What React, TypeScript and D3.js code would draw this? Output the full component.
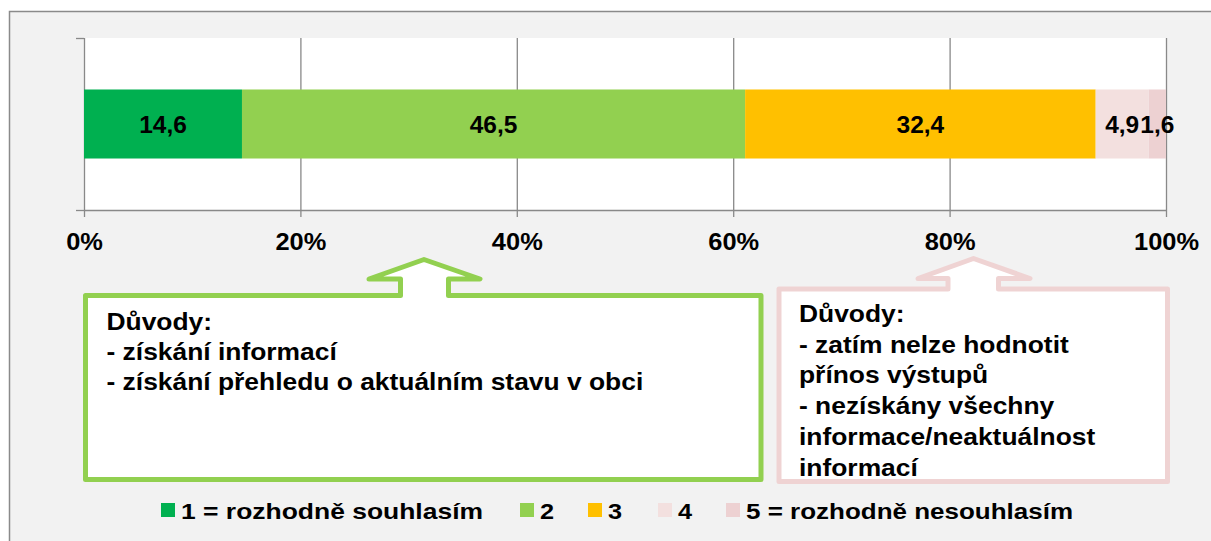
import React from "react";
import * as d3 from "d3";

const categories = ["1 = rozhodně souhlasím", "2", "3", "4", "5 = rozhodně nesouhlasím"];
const values = [14.6, 46.5, 32.4, 4.9, 1.6];
const valueLabels = ["14,6", "46,5", "32,4", "4,9", "1,6"];
const colors = ["#00b050", "#92d050", "#ffc000", "#f3e0df", "#edd1d2"];
const tickValues = [0, 20, 40, 60, 80, 100];
const tickLabels = ["0%", "20%", "40%", "60%", "80%", "100%"];
const greenLines = ["Důvody:", "- získání informací", "- získání přehledu o aktuálním stavu v obci"];
const pinkLines = [
  "Důvody:",
  "- zatím nelze hodnotit",
  "přínos výstupů",
  "- nezískány všechny",
  "informace/neaktuálnost",
  "informací",
];

const FONT = "'Liberation Sans', Arial, Helvetica, sans-serif";

function SText({ x, y, sx = 1, anchor = "start", size = 24, children, len }: any) {
  return (
    <text
      transform={`translate(${x},${y}) scale(${sx},1)`}
      textAnchor={anchor}
      fontFamily={FONT}
      fontWeight="bold"
      fontSize={size}
      fill="#000"
      textLength={len}
      lengthAdjust={len ? "spacingAndGlyphs" : undefined}
    >
      {children}
    </text>
  );
}

function calloutPath(x0: number, x1: number, yTop: number, yBot: number, sL: number, sR: number, headL: number, headR: number, apexX: number, headY: number, apexY: number) {
  const p = d3.path();
  p.moveTo(x0, yTop);
  p.lineTo(sL, yTop);
  p.lineTo(sL, headY);
  p.lineTo(headL, headY);
  p.lineTo(apexX, apexY);
  p.lineTo(headR, headY);
  p.lineTo(sR, headY);
  p.lineTo(sR, yTop);
  p.lineTo(x1, yTop);
  p.lineTo(x1, yBot);
  p.lineTo(x0, yBot);
  p.closePath();
  return p.toString();
}

export default function App() {
  const W = 1211;
  const H = 541;
  const plot = { left: 84, right: 1166, top: 38, bottom: 210 };
  const x = d3.scaleLinear().domain([0, 100]).range([plot.left, plot.right]);
  const band = d3.scaleBand().domain(["row"]).range([plot.top, plot.bottom]).paddingInner(0).paddingOuter(0.746);
  const y0 = band("row")!;
  const bh = band.bandwidth();

  const stack = d3.stack<any>().keys(categories.map((_, i) => String(i)))([
    Object.fromEntries(values.map((v, i) => [String(i), v])),
  ]);

  const legendX = [161, 520, 588, 658, 726];
  const legendLen = [302, undefined, undefined, undefined, 327];
  const axisColor = "#898989";

  return (
    <div style={{ position: "absolute", left: 0, top: 0 }}>
      <svg width={W} height={H} style={{ display: "block" }}>
        <rect x={0} y={0} width={W} height={H} fill="#ffffff" />
        <rect x={9.5} y={11.5} width={W + 20} height={H + 20} fill="#f2f2f2" stroke="#8a8a8a" strokeWidth={1.5} />
        <rect x={plot.left} y={plot.top} width={plot.right - plot.left} height={plot.bottom - plot.top} fill="#ffffff" />
        {tickValues.map((t) => (
          <line key={"g" + t} x1={x(t) + 0.5} x2={x(t) + 0.5} y1={plot.top} y2={plot.bottom + 7} stroke={axisColor} strokeWidth={1.3} />
        ))}
        <line x1={plot.left} x2={plot.right} y1={plot.bottom + 0.5} y2={plot.bottom + 0.5} stroke={axisColor} strokeWidth={1.3} />
        <line x1={plot.left - 8} x2={plot.left} y1={plot.top + 0.5} y2={plot.top + 0.5} stroke={axisColor} strokeWidth={1.3} />
        <line x1={plot.left - 8} x2={plot.left} y1={plot.bottom + 0.5} y2={plot.bottom + 0.5} stroke={axisColor} strokeWidth={1.3} />
        {stack.map((s, i) => (
          <rect key={"b" + i} x={x(s[0][0])} y={y0} width={x(s[0][1]) - x(s[0][0])} height={bh} fill={colors[i]} />
        ))}
        {stack.map((s, i) => (
          <SText key={"l" + i} x={(x(s[0][0]) + x(s[0][1])) / 2} y={y0 + bh / 2 + 9} anchor="middle" size={24} sx={1.02}>
            {valueLabels[i]}
          </SText>
        ))}
        {tickValues.map((t, i) => (
          <SText key={"t" + t} x={x(t) + 0.5} y={250} anchor="middle" size={24} sx={1.06}>
            {tickLabels[i]}
          </SText>
        ))}

        <path
          d={calloutPath(85.5, 761, 295.5, 479.5, 400.5, 448.5, 369, 480, 424, 279, 259.5)}
          fill="#ffffff"
          stroke="#92d050"
          strokeWidth={5}
          strokeLinejoin="round"
        />
        <path
          d={calloutPath(779, 1167.5, 289, 481.5, 948, 998.5, 918, 1030, 973.5, 278.5, 258.5)}
          fill="#ffffff"
          stroke="#efd3d3"
          strokeWidth={5}
          strokeLinejoin="round"
        />
        {greenLines.map((l, i) => (
          <SText key={"gl" + i} x={106.5} y={330 + i * 30} size={24} sx={1.1}>
            {l}
          </SText>
        ))}
        {pinkLines.map((l, i) => (
          <SText key={"pl" + i} x={799} y={322 + i * 30.7} size={24} sx={1.1}>
            {l}
          </SText>
        ))}

        {categories.map((c, i) => (
          <g key={"lg" + i}>
            <rect x={legendX[i]} y={503} width={14} height={14} fill={colors[i]} />
            <SText x={legendX[i] + 20} y={519} size={22} len={legendLen[i]} sx={legendLen[i] ? 1 : 1.15}>
              {c}
            </SText>
          </g>
        ))}
      </svg>
    </div>
  );
}
